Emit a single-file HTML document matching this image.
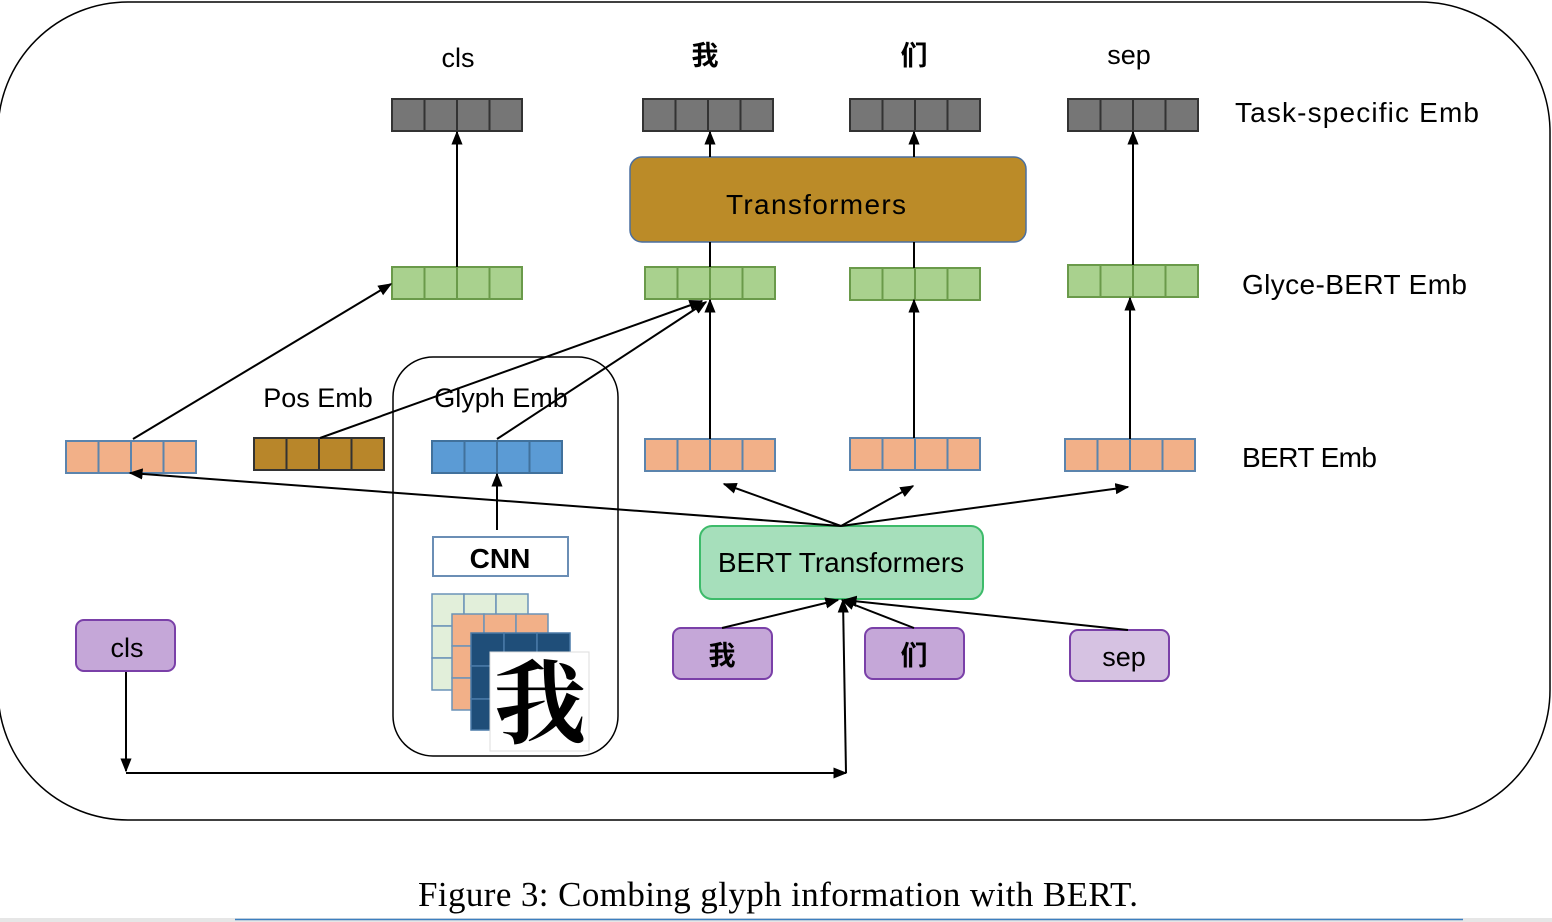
<!DOCTYPE html>
<html><head><meta charset="utf-8"><style>
html,body{margin:0;padding:0;background:#fff;width:1552px;height:922px;overflow:hidden}
svg text{font-family:"Liberation Sans","Noto Sans CJK SC",sans-serif}
svg text.cap{font-family:"Liberation Serif",serif}
</style></head><body>
<svg width="1552" height="922" viewBox="0 0 1552 922" xmlns="http://www.w3.org/2000/svg">
<defs>
<marker id="a" viewBox="0 0 10 10" refX="9" refY="5" markerWidth="7" markerHeight="7" orient="auto-start-reverse"><path d="M0,1 L10,5 L0,9 z" fill="#000"/></marker>
<g id="v4"><rect x="0" y="0" width="32.5" height="32"/><rect x="32.5" y="0" width="32.5" height="32"/><rect x="65" y="0" width="32.5" height="32"/><rect x="97.5" y="0" width="32.5" height="32"/></g>
</defs>
<rect x="-2" y="2" width="1552" height="818" rx="130" fill="none" stroke="#000" stroke-width="1.5"/>

<g fill="#767676" stroke="#333" stroke-width="2">
<use href="#v4" x="392" y="99"/><use href="#v4" x="643" y="99"/><use href="#v4" x="850" y="99"/><use href="#v4" x="1068" y="99"/>
</g>
<g fill="#a9d18e" stroke="#6a9a4a" stroke-width="2">
<use href="#v4" x="392" y="267"/><use href="#v4" x="645" y="267"/><use href="#v4" x="850" y="268"/><use href="#v4" x="1068" y="265"/>
</g>
<g fill="#f2b088" stroke="#5b84ad" stroke-width="2">
<use href="#v4" x="66" y="441"/><use href="#v4" x="645" y="439"/><use href="#v4" x="850" y="438"/><use href="#v4" x="1065" y="439"/>
</g>
<g fill="#b8862a" stroke="#333" stroke-width="2"><use href="#v4" x="254" y="438"/></g>
<g fill="#5b9bd5" stroke="#41719c" stroke-width="2"><use href="#v4" x="432" y="441"/></g>

<rect x="630" y="157" width="396" height="85" rx="12" fill="#bb8b28" stroke="#4a6fa0" stroke-width="1.5"/>
<text x="816" y="214" font-size="28" text-anchor="middle" textLength="180">Transformers</text>

<rect x="393" y="357" width="225" height="399" rx="40" fill="none" stroke="#000" stroke-width="1.5"/>
<rect x="433" y="537" width="135" height="39" fill="#fff" stroke="#6b8eb5" stroke-width="2"/>
<text x="500" y="568" font-size="28" font-weight="bold" text-anchor="middle">CNN</text>
<g stroke="#6b93b8" stroke-width="1.5" fill="#e2efda">
<rect x="432" y="594" width="32" height="32"/><rect x="464" y="594" width="32" height="32"/><rect x="496" y="594" width="32" height="32"/>
<rect x="432" y="626" width="32" height="32"/><rect x="432" y="658" width="32" height="32"/>
</g>
<g stroke="#6b93b8" stroke-width="1.5" fill="#f2b088">
<rect x="452" y="614" width="32" height="32"/><rect x="484" y="614" width="32" height="32"/><rect x="516" y="614" width="32" height="32"/>
<rect x="452" y="646" width="32" height="32"/><rect x="452" y="678" width="32" height="32"/>
</g>
<g stroke="#4a7aa8" stroke-width="1.5" fill="#1f4e79">
<rect x="471" y="633" width="33" height="33"/><rect x="504" y="633" width="33" height="33"/><rect x="537" y="633" width="33" height="33"/>
<rect x="471" y="666" width="33" height="33"/><rect x="471" y="699" width="33" height="31"/>
</g>
<rect x="490" y="652" width="99" height="99" fill="#fff" stroke="#ddd"/>
<text x="540" y="736" font-size="92" text-anchor="middle" style="font-family:'Noto Serif CJK SC',serif" font-weight="bold">我</text>

<rect x="700" y="526" width="283" height="73" rx="12" fill="#a6dfbb" stroke="#3dbb6a" stroke-width="2"/>
<text x="841" y="572" font-size="28" text-anchor="middle">BERT Transformers</text>

<g stroke="#7a40a8" stroke-width="2" fill="#c5a7d8">
<rect x="76" y="620" width="99" height="51" rx="8"/>
<rect x="673" y="628" width="99" height="51" rx="8"/>
<rect x="865" y="628" width="99" height="51" rx="8"/>
<rect x="1070" y="630" width="99" height="51" rx="8" fill="#d6c2e2"/>
</g>
<g font-size="27" text-anchor="middle">
<text x="127" y="657">cls</text>
<text x="722" y="665" font-weight="bold">我</text>
<text x="914" y="665" font-weight="bold">们</text>
<text x="1124" y="666">sep</text>
</g>

<g font-size="27" text-anchor="middle">
<text x="458" y="67">cls</text>
<text x="705" y="65" font-weight="bold">我</text>
<text x="914" y="65" font-weight="bold">们</text>
<text x="1129" y="64">sep</text>
<text x="318" y="407">Pos Emb</text>
<text x="501" y="407">Glyph Emb</text>
</g>
<g font-size="28">
<text x="1235" y="122" textLength="244">Task-specific Emb</text>
<text x="1242" y="294" textLength="225">Glyce-BERT Emb</text>
<text x="1242" y="467" textLength="135">BERT Emb</text>
</g>

<g stroke="#000" stroke-width="2" fill="none" marker-end="url(#a)">
<line x1="457" y1="267" x2="457" y2="132"/>
<line x1="710" y1="157" x2="710" y2="132"/>
<line x1="914" y1="157" x2="914" y2="132"/>
<line x1="1133" y1="265" x2="1133" y2="132"/>
<line x1="133" y1="439" x2="391" y2="284"/>
<line x1="320" y1="438" x2="702" y2="301"/>
<line x1="497" y1="439" x2="706" y2="302"/>
<line x1="710" y1="439" x2="710" y2="300"/>
<line x1="914" y1="438" x2="914" y2="300"/>
<line x1="1130" y1="439" x2="1130" y2="298"/>
<line x1="497" y1="530" x2="497" y2="474"/>
<line x1="841" y1="526" x2="130" y2="473"/>
<line x1="841" y1="526" x2="724" y2="484"/>
<line x1="841" y1="526" x2="913" y2="486"/>
<line x1="841" y1="526" x2="1128" y2="487"/>
<line x1="722" y1="628" x2="838" y2="600"/>
<line x1="914" y1="628" x2="842" y2="600"/>
<line x1="1128" y1="630" x2="844" y2="600"/>
<line x1="126" y1="672" x2="126" y2="771"/>
<line x1="126" y1="773" x2="846" y2="773"/>
<line x1="846" y1="773" x2="843" y2="600"/>
</g>
<line x1="710" y1="242" x2="710" y2="267" stroke="#000" stroke-width="2"/>
<line x1="914" y1="242" x2="914" y2="268" stroke="#000" stroke-width="2"/>

<text class="cap" x="778" y="906" font-size="35" text-anchor="middle" textLength="720">Figure 3: Combing glyph information with BERT.</text>
<rect x="0" y="918" width="1552" height="4" fill="#e6e6e6"/>
<line x1="235" y1="919.5" x2="1463" y2="919.5" stroke="#3c7fc0" stroke-width="1.5"/>
</svg>
</body></html>
